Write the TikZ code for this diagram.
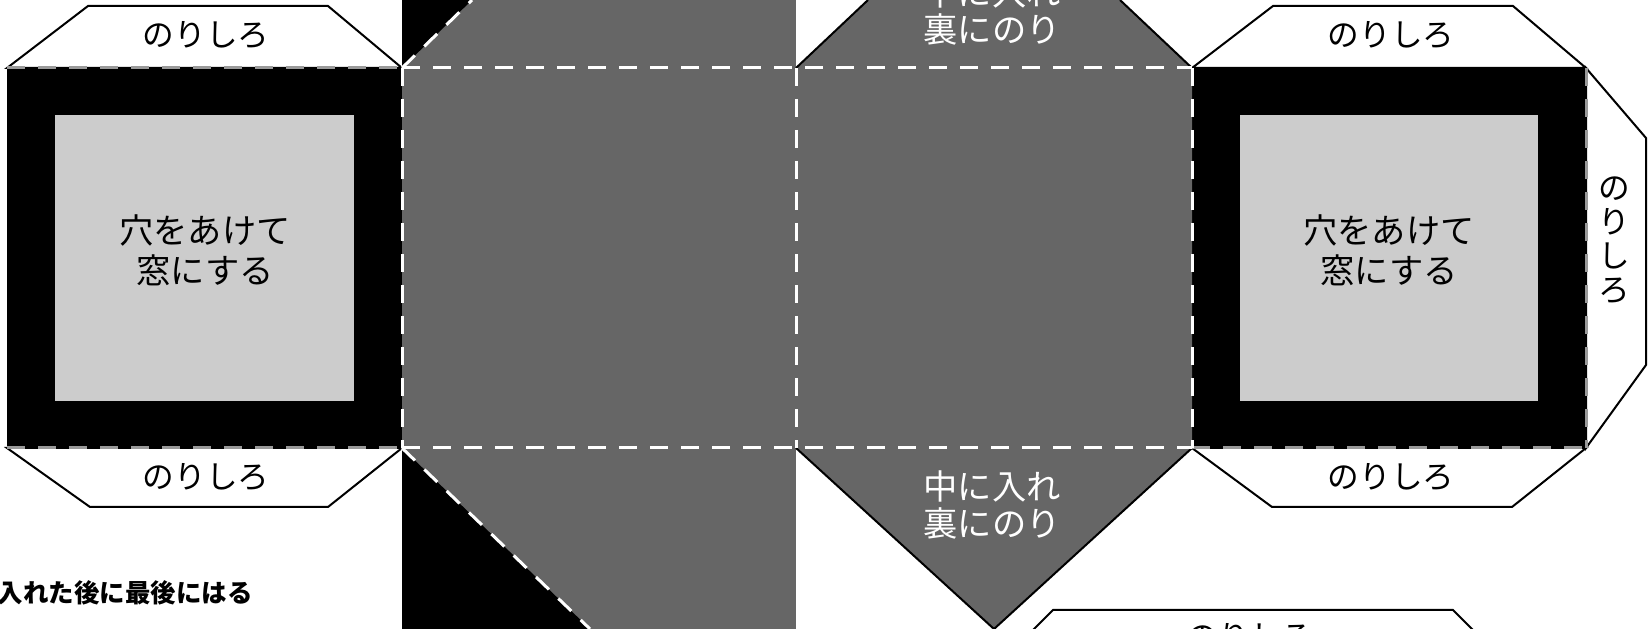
\documentclass[tikz,border=0pt]{standalone}
\usepackage{fontspec}
\setmainfont{Noto Sans CJK JP}
\usepackage{xcolor}
\definecolor{flapgray}{HTML}{666666}
\definecolor{windowgray}{HTML}{CCCCCC}
\definecolor{foldgray}{HTML}{9A9A9A}

\begin{document}
\begin{tikzpicture}[x=0.2mm, y=-0.2mm,
	tab/.style={draw=black, line width=0.4mm, fill=white},
	cutline/.style={draw=black, line width=0.4mm},
	foldwhite/.style={draw=white, line width=0.6mm, dash pattern=on 3.6mm off 2.6mm},
	foldgrey/.style={draw=foldgray, line width=0.6mm, dash pattern=on 3.6mm off 2.6mm},
	label/.style={font=\fontsize{18}{22.7}\selectfont, text=black, inner sep=0pt, align=center},
	winlabel/.style={label, font=\fontsize{19.5}{22.7}\selectfont},
	flaplabel/.style={font=\fontsize{19.5}{21}\selectfont, text=white, inner sep=0pt, align=center},
	note/.style={font=\fontsize{14.5}{16}\selectfont\bfseries, inner sep=0pt}
	]
	% We will draw the box net here
	\clip (0,0) rectangle (1651,629);
	
	% glue tabs
	\draw[tab] (7,68) -- (88,6) -- (328,6) -- (402,68) -- cycle;
	\draw[tab] (7,448) -- (90,507) -- (328,507) -- (402,448) -- cycle;
	\draw[tab] (1192,68) -- (1273,6) -- (1513,6) -- (1586,68) -- cycle;
	\draw[tab] (1192,448) -- (1272,507) -- (1512,507) -- (1586,448) -- cycle;
	\draw[tab] (1586,68) -- (1646,138) -- (1646,365) -- (1586,448) -- cycle;
	\draw[tab] (1010,653) -- (1053,610) -- (1453,610) -- (1496,653) -- cycle;
	
	% window faces
	\fill[black] (7,68) rectangle (402,448);
	\fill[windowgray] (55,115) rectangle (354,401);
	\fill[black] (1192,68) rectangle (1586,448);
	\fill[windowgray] (1240,115) rectangle (1538,401);
	
	% middle faces
	\fill[flapgray] (402,0) rectangle (796,629);
	\fill[black] (402,0) -- (472,0) -- (402,68) -- cycle;
	\fill[black] (402,448) -- (590,629) -- (402,629) -- cycle;
	\fill[flapgray] (796,68) -- (868,0) -- (1120,0) -- (1192,68) -- (1192,448) -- (994,629) -- (796,448) -- cycle;
	\draw[cutline] (796,68) -- (868,0);
	\draw[cutline] (1192,68) -- (1120,0);
	\draw[cutline] (796,448) -- (994,629) -- (1192,448);
	
	% fold lines
	\draw[foldgrey] (7,68) -- (402,68);
	\draw[foldgrey] (7,448) -- (402,448);
	\draw[foldgrey] (1192,448) -- (1586,448);
	\draw[foldgrey] (1586,68) -- (1586,448);
	\draw[foldwhite] (402,68) -- (1192,68);
	\draw[foldwhite] (402,448) -- (1192,448);
	\foreach \xf in {402,796,1192}
		\draw[foldwhite] (\xf,68) -- (\xf,448);
	\draw[foldwhite] (402,68) -- (472,0);
	\draw[foldwhite] (402,448) -- (590,629);
	
	% texts
	\node[label] (tabTL) at (206,35) {のりしろ};
	\node[label] (tabBL) at (206,477) {のりしろ};
	\node[label] (tabTR) at (1391,35) {のりしろ};
	\node[label] (tabBR) at (1391,477) {のりしろ};
	\node[label, font=\fontsize{18}{19.3}\selectfont] (tabSide) at (1614,240) {の\\り\\し\\ろ};
	\node[label] (tabLow) at (1250,637) {のりしろ};
	\node[winlabel] (winL) at (205,250) {穴をあけて\\窓にする};
	\node[winlabel] (winR) at (1389,250) {穴をあけて\\窓にする};
	\node[flaplabel] (flapTop) at (992,11) {中に入れ\\裏にのり};
	\node[flaplabel] (flapBot) at (992,505) {中に入れ\\裏にのり};
	\node[note, anchor=east] (lastNote) at (253,593) {入れた後に最後にはる};
	
\end{tikzpicture}
\end{document}
